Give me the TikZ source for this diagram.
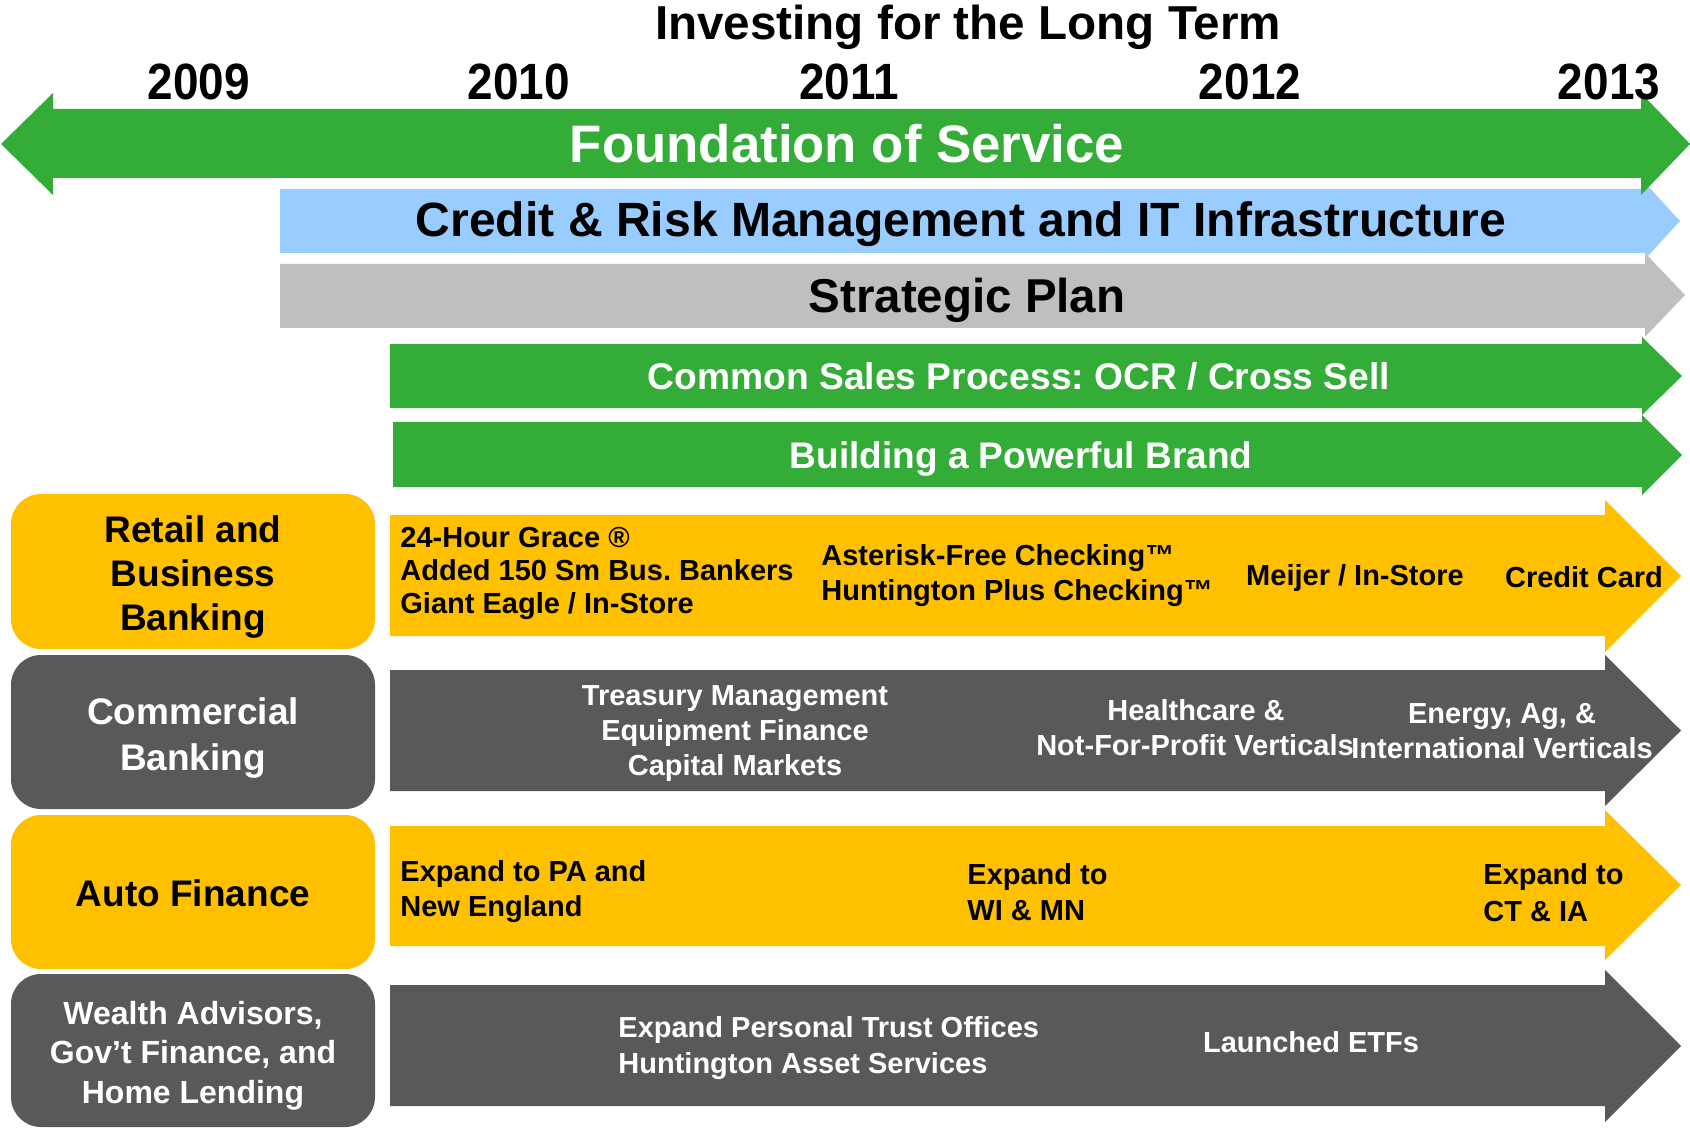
\documentclass[tikz,border=0pt]{standalone}
\usepackage{fontspec}
\setmainfont{Liberation Sans}
\newfontfamily\yearfont[FakeStretch=0.9]{Liberation Sans}
\frenchspacing

\definecolor{hgreen}{HTML}{33AD37}
\definecolor{hblue}{HTML}{99CCFF}
\definecolor{hsilver}{HTML}{BFBFBF}
\definecolor{hgold}{HTML}{FFC000}
\definecolor{hslate}{HTML}{595959}

% band arrow: fill, left x, shaft top, shaft bottom, head base x, head top, head bottom, tip x
\newcommand\bandarrow[8]{%
  \fill[#1] (#2,#3) -- (#5,#3) -- (#5,#6) -- (#8,{(#6+#7)/2}) -- (#5,#7) -- (#5,#4) -- (#2,#4) -- cycle;}

\begin{document}
\begin{tikzpicture}[x=0.5pt,y=-0.5pt,
  lbl/.style={inner sep=0pt},
  ttl/.style={lbl, anchor=base, font=\fontsize{23.8}{28}\selectfont\bfseries},
  yr/.style={lbl, anchor=base, font=\yearfont\fontsize{25.5}{30}\selectfont\bfseries},
  banner/.style={lbl, anchor=base, font=\fontsize{#1}{#1}\selectfont\bfseries},
  rowl/.style={lbl, anchor=base west, font=\fontsize{14.5}{17}\selectfont\bfseries},
  rowc/.style={lbl, anchor=base, font=\fontsize{14.5}{17}\selectfont\bfseries},
  side/.style={lbl, anchor=base, font=\fontsize{18.5}{22}\selectfont\bfseries},
  sidesm/.style={lbl, anchor=base, font=\fontsize{16}{19}\selectfont\bfseries},
  sidebox/.style={rounded corners=15pt}]

\useasboundingbox (0,0) rectangle (1690,1128);
\fill[white] (0,0) rectangle (1690,1128);

% ---- company-wide themes (drawn bottom-up so upper bands overlap) ----
\bandarrow{hgreen}{393}{422}{487}{1642}{415}{495}{1682}
\bandarrow{hgreen}{390}{344}{408}{1642}{337}{415}{1682}
\bandarrow{hsilver}{280}{264}{328}{1645}{253}{337}{1685}
\bandarrow{hblue}{280}{189}{253}{1646}{184}{258}{1680}
\fill[hgreen] (53,109) -- (1641,109) -- (1641,93) -- (1690,144) -- (1641,195)
  -- (1641,178) -- (53,178) -- (53,195) -- (1,144) -- (53,93) -- cycle;

% ---- business lines ----
\bandarrow{hgold}{390}{515}{636}{1605}{500}{652}{1681}
\bandarrow{hslate}{390}{670}{791}{1605}{655}{806}{1681}
\bandarrow{hgold}{390}{826}{946}{1605}{810}{960}{1681}
\bandarrow{hslate}{390}{985}{1106}{1605}{970}{1122}{1681}

\fill[hgold, sidebox] (11,494) rectangle (375,649);
\fill[hslate, sidebox] (11,655) rectangle (375,809);
\fill[hgold, sidebox] (11,815) rectangle (375,969);
\fill[hslate, sidebox] (11,974) rectangle (375,1127);

% ---- heading and years ----
\node[ttl] (title) at (968,40) {Investing for the Long Term};
\node[yr] (y09) at (199,100) {2009};
\node[yr] (y10) at (519,100) {2010};
\node[yr] (y11) at (849,100) {2011};
\node[yr] (y12) at (1250,100) {2012};
\node[yr] (y13) at (1609,100) {2013};

% ---- theme labels ----
\node[banner=26.4, text=white] (fos) at (847,163) {Foundation of Service};
\node[banner=24.05] (crm) at (961,237) {Credit \& Risk Management and IT Infrastructure};
\node[banner=23.75] (sp) at (967,313) {Strategic Plan};
\node[banner=18.6, text=white] (csp) at (1019,389) {Common Sales Process: OCR / Cross Sell};
\node[banner=18.5, text=white] (bpb) at (1021,468) {Building a Powerful Brand};

% ---- side labels ----
\node[side] (rb1) at (193,542) {Retail and};
\node[side] (rb2) at (193,586) {Business};
\node[side] (rb3) at (193,630) {Banking};
\node[side, text=white] (cb1) at (193,724) {Commercial};
\node[side, text=white] (cb2) at (193,770) {Banking};
\node[side] (af1) at (193,906) {Auto Finance};
\node[sidesm, text=white] (wa1) at (193,1024) {Wealth Advisors,};
\node[sidesm, text=white] (wa2) at (193,1063) {Gov’t Finance, and};
\node[sidesm, text=white] (wa3) at (193,1103) {Home Lending};

% ---- retail and business banking milestones ----
\node[rowl] (r1) at (400,547) {24-Hour Grace ®};
\node[rowl] (r2) at (400,580) {Added 150 Sm Bus. Bankers};
\node[rowl] (r3) at (400,613) {Giant Eagle / In-Store};
\node[rowl] (r4) at (821,565) {Asterisk-Free Checking™};
\node[rowl] (r5) at (821,600) {Huntington Plus Checking™};
\node[rowc] (r6) at (1355,585) {Meijer / In-Store};
\node[rowc] (r7) at (1584,587) {Credit Card};

% ---- commercial banking milestones ----
\node[rowc, text=white] (c1) at (735,705) {Treasury Management};
\node[rowc, text=white] (c2) at (735,740) {Equipment Finance};
\node[rowc, text=white] (c3) at (735,775) {Capital Markets};
\node[rowc, text=white] (c4) at (1196,720) {Healthcare \&};
\node[rowc, text=white] (c5) at (1195,755) {Not-For-Profit Verticals};
\node[rowc, text=white] (c6) at (1502,723) {Energy, Ag, \&};
\node[rowc, text=white] (c7) at (1502,758) {International Verticals};

% ---- auto finance milestones ----
\node[rowl] (a1) at (400,881) {Expand to PA and};
\node[rowl] (a2) at (400,916) {New England};
\node[rowl] (a3) at (967,884) {Expand to};
\node[rowl] (a4) at (967,920) {WI \& MN};
\node[rowl] (a5) at (1483,884) {Expand to};
\node[rowl] (a6) at (1483,921) {CT \& IA};

% ---- wealth, government finance and home lending milestones ----
\node[rowl, text=white] (w1) at (618,1037) {Expand Personal Trust Offices};
\node[rowl, text=white] (w2) at (618,1073) {Huntington Asset Services};
\node[rowc, text=white] (w3) at (1311,1052) {Launched ETFs};
\end{tikzpicture}
\end{document}
